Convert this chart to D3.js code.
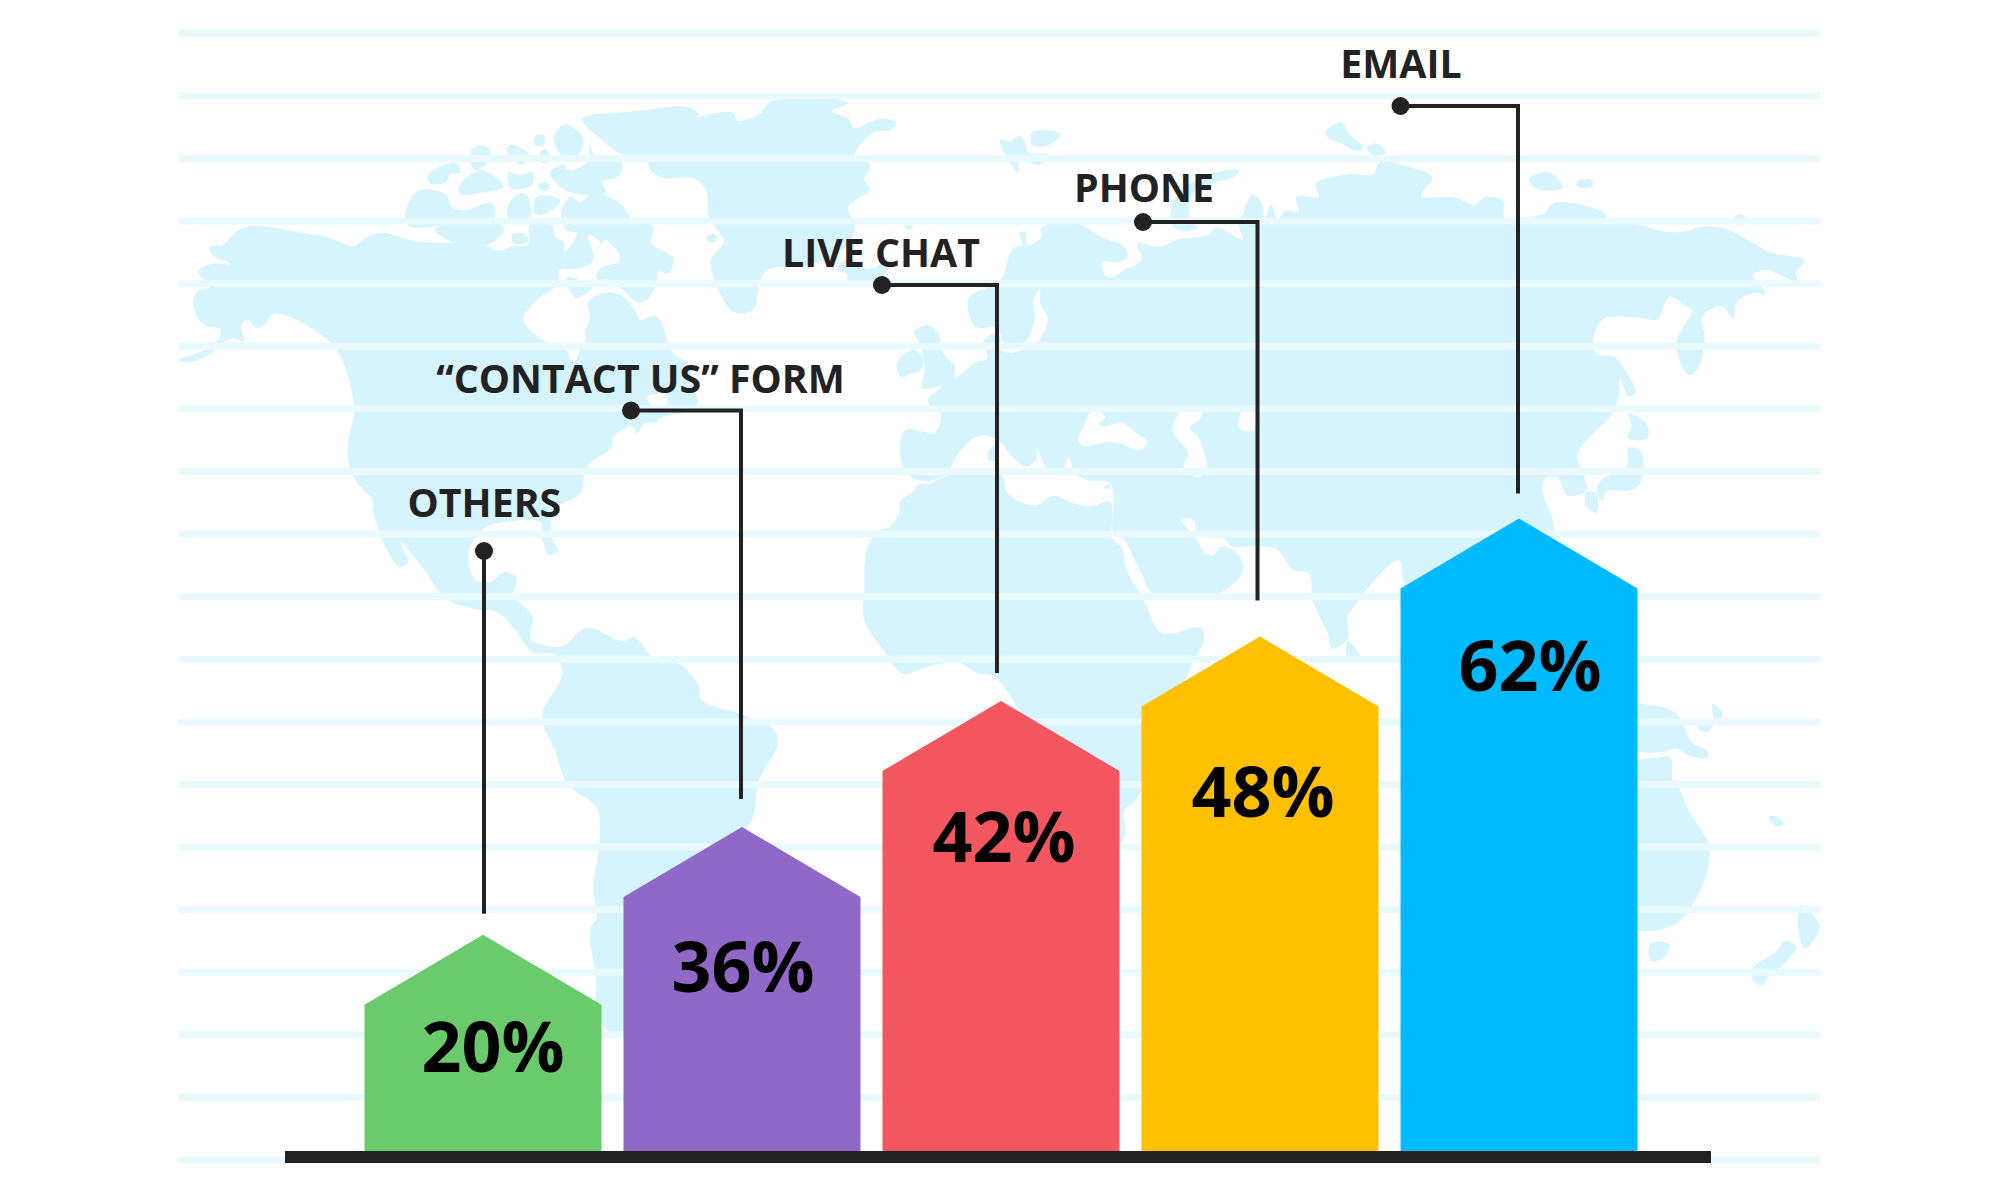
<!DOCTYPE html>
<html><head><meta charset="utf-8">
<script src="https://cdn.jsdelivr.net/npm/d3@7"></script>
<style>html,body{margin:0;background:#fff}svg{display:block}text{font-family:"Open Sans",sans-serif}</style>
</head><body><svg id="c" width="2000" height="1193"></svg>
<script>
var categories = ["OTHERS", "\u201CCONTACT US\u201D FORM", "LIVE CHAT", "PHONE", "EMAIL"];
var values = [20, 36, 42, 48, 62];
var colors = ["#69CB6B", "#9068C8", "#F2565F", "#FFC000", "#00BAFF"];
var gridRows = d3.range(19);

// Map outlines traced in crop units (the helpers add the crop offset)
function shiftPts(ox, oy, p) { return p.map(function (d) { return [d[0] + ox, d[1] + oy]; }); }
function fromZoom(ox, oy, p) { return p.map(function (d) { return [(ox + d[0] / 3) * 1.568, (oy + d[1] / 3) * 2.6133]; }); }
function euro(p) { return fromZoom(880, 270, p); }
function arctic(p) { return fromZoom(480, 180, p); }
var cropRight = 1568, cropBelow = 1550;
var landShapes = [
 // North America + Central + South America
 [...shiftPts(0,0,[[310,710],[330,690],[362,690],[332,665],[330,645],[350,640],[375,600],[405,590],[460,605],[510,618],[555,642],[575,620],[600,608],[650,630],[700,635]]),
  ...arctic([[0,192],[60,212],[100,198],[143,195],[150,135],[215,135],[225,170],[250,185],[255,215],[290,160],[260,150],[243,100],[270,50],[300,65],[340,40],[420,70],[450,110],[520,140],[515,190],[580,235],[565,280],[535,275],[530,310],[500,360],[470,365],[430,330],[385,300],[350,298],[360,265],[415,245],[418,225],[375,180],[365,195],[355,180],[325,165],[340,240],[300,265],[240,270],[235,298],[225,320],[165,365],[130,415],[150,450],[210,490],[260,510],[272,540],[285,545],[300,510],[315,490],[315,455],[330,410],[325,365],[380,338],[430,350],[465,390],[480,420],[520,408],[540,420],[565,490],[580,520],[625,555],[640,620],[650,680],[540,715],[525,730],[495,730],[470,760],[458,740],[400,770],[395,800],[320,860]]),
  ...shiftPts(0,0,[[910,1290],[870,1330],[865,1400],[875,1440],[860,1450],[850,1400],[848,1365],[800,1362],[760,1380],[735,1440],[745,1515],[770,1520],[790,1495],[810,1510],[805,1555]]),
  ...shiftPts(0,cropBelow,[[825,40],[835,60],[833,120],[880,140],[920,90],[975,125],[995,115],[1030,180],[1065,185],[1095,240],[1100,280],[1160,315],[1210,350],[1220,390],[1190,490],[1180,590],[1160,640],[1140,800],[1000,1150],[960,1150],[935,1100],[935,1010],[925,880],[935,850],[930,770],[940,650],[935,560],[890,500],[870,410],[850,320],[882,210],[870,160],[835,155],[810,100],[780,50],[740,40],[700,15]]),
  ...shiftPts(0,0,[[665,1490],[628,1415],[640,1470],[625,1480],[585,1340],[585,1310],[555,1250],[545,1180],[555,1060],[530,920],[500,870],[450,825],[430,820],[410,855],[400,855],[388,835],[378,850],[382,890],[365,885],[350,895],[330,925],[300,945],[278,942],[320,915],[345,880],[345,860],[320,850],[303,800],[310,760],[330,750],[325,740]])],
 // Greenland
 [[1000,405],[1040,375],[1060,330],[1095,305],[1150,295],[1155,315],[1190,300],[1205,270],[1240,255],[1295,255],[1330,270],[1305,290],[1330,310],[1340,335],[1380,310],[1405,320],[1395,340],[1370,345],[1340,410],[1365,430],[1355,470],[1365,495],[1330,540],[1340,590],[1330,640],[1275,690],[1200,710],[1180,810],[1150,815],[1130,770],[1115,680],[1135,630],[1120,590],[1112,570],[1105,490],[1085,465],[1040,465],[1020,445],[1015,425]],
 // Ellesmere & arctic islands
 [[913,310],[1000,290],[1080,280],[1095,300],[1060,330],[1040,375],[1000,405],[970,400],[940,360],[925,340]],
 [[870,350],[888,325],[915,365],[905,405],[880,405],[870,375]],
 [[840,355],[853,355],[852,380],[838,378]],
 [[740,390],[755,380],[767,390],[765,420],[748,445],[740,435]],
 [[795,385],[805,378],[830,405],[820,430],[800,410]],
 [[845,405],[855,390],[865,420],[848,425]],
 [[925,370],[932,405],[975,425],[970,460],[945,475],[950,505],[900,505],[880,490],[862,450],[885,430],[890,445],[920,425]],
 [[672,455],[715,425],[722,450],[705,455],[700,475],[675,480]],
 [[720,485],[755,445],[790,487],[750,505],[722,507]],
 [[797,450],[815,458],[835,450],[835,480],[815,495],[800,490]],
 [[845,480],[860,480],[860,495],[848,498]],
 [[635,560],[650,505],[665,495],[700,510],[708,540],[730,550],[770,530],[775,570],[720,578],[690,590],[640,590]],
 [[795,545],[815,505],[828,515],[830,570],[800,575]],
 [[840,515],[870,515],[878,525],[860,555],[840,560]],
 [[682,600],[700,625],[720,640],[765,640],[790,600],[775,575],[720,575],[690,590]],
 arctic([[98,160],[140,165],[143,185],[100,190]]),
 arctic([[262,292],[335,325],[300,350],[290,355],[265,320]]),
 arctic([[680,170],[705,162],[712,175],[695,187],[680,180]]),
 arctic([[1072,270],[1085,245],[1120,240],[1150,265],[1185,262],[1215,240],[1218,280],[1190,310],[1105,305],[1100,280]]),
 arctic([[565,670],[590,640],[640,640],[652,670],[600,680]]),
 [[1420,590],[1432,590],[1425,602]],
 // UK, Sardinia, Crete
 euro([[50,280],[75,250],[100,240],[125,255],[130,280],[115,305],[90,310],[65,325],[55,310]]),
 euro([[325,545],[345,525],[345,570],[325,570]]),
 euro([[670,650],[690,643],[690,655],[672,655]]),
 // Eurasia
 [...euro([[205,606],[150,633],[100,625],[70,590],[60,520],[80,478],[160,490],[175,475],[180,425],[150,405],[145,385],[185,350],[125,355],[135,300],[120,225],[103,185],[143,165],[175,190],[190,250],[225,290],[225,322],[290,275],[320,268],[320,240],[310,215],[345,190],[360,200],[365,240],[395,248],[440,235],[475,215],[503,145],[480,100],[480,55],[460,95],[465,140],[435,215],[375,220],[355,180],[340,170],[300,175],[280,165],[265,85],[340,45],[365,25]]),
  ...shiftPts(cropRight,0,[[20,650],[35,640],[30,610],[40,605],[42,640],[65,620],[65,595],[120,585],[160,620],[195,645],[200,670],[185,685],[160,685],[165,720],[175,725],[195,705],[222,680],[215,635],[250,645],[280,625],[325,615],[340,595],[380,625],[375,590],[385,540],[395,510],[410,530],[415,570],[425,535],[435,570],[450,550],[468,555],[465,515],[500,515],[495,480],[550,455],[585,455],[595,425],[650,440],[678,465],[660,512],[710,515],[745,535],[760,515],[790,525],[790,565],[850,560],[870,530],[940,550],[960,575],[1010,590],[1040,605],[1075,605],[1100,592],[1140,600],[1210,660],[1262,680],[1248,710],[1250,735],[1200,705],[1180,720],[1190,740],[1200,770],[1185,765],[1155,790],[1150,830],[1130,800],[1100,830],[1105,880],[1095,960],[1080,980],[1060,900],[1085,810],[1075,800],[1050,775],[1030,835],[1000,830],[945,835],[930,890],[935,925],[965,935],[970,1030],[960,1080],[920,1150],[905,1190],[920,1280],[890,1295],[875,1250],[855,1250],[850,1280],[868,1370],[868,1550],[640,1540],[625,1465],[570,1550]]),
  ...shiftPts(cropRight,cropBelow,[[560,25],[545,60],[545,120],[520,145],[515,110],[490,17]]),
  ...shiftPts(cropRight,0,[[485,1500],[459,1489],[434,1437],[403,1427],[364,1429],[349,1403],[334,1406],[309,1393],[303,1359],[284,1359],[306,1403],[322,1445],[334,1450],[349,1429],[371,1445],[381,1489],[345,1550],[240,1550],[219,1489],[191,1402],[178,1390]]),
  ...euro([[700,670],[690,640],[620,630],[585,610],[567,562],[555,585],[550,615],[500,600],[490,580],[470,535],[470,565],[440,590],[400,565],[360,515],[320,497],[280,505],[225,565]])],
 // Africa
 [...shiftPts(0,0,[[1360,1430],[1355,1550]]),
  ...shiftPts(0,cropBelow,[[1355,70],[1390,160],[1415,210],[1460,190],[1500,180],[1535,210],[1560,220]]),
  ...shiftPts(cropRight,cropBelow,[[60,400],[120,655],[187,655],[197,630],[195,570],[215,535],[300,190],[320,120],[315,90],[270,105],[250,100],[225,17]]),
  ...euro([[740,900],[725,835],[697,805],[695,785],[690,695],[630,710],[580,700],[520,677],[470,705],[420,695],[380,665],[365,616],[205,616],[150,641],[115,642],[105,660],[60,695],[57,730],[30,770],[0,780]])],
 // Arctic Eurasia islands, Japan, Sri Lanka
 shiftPts(cropRight,0,[[510,345],[535,320],[548,350],[570,385],[560,395],[535,375],[515,360]]),
 shiftPts(cropRight,0,[[575,385],[590,375],[605,400],[585,405]]),
 shiftPts(cropRight,0,[[830,465],[860,450],[883,490],[850,497],[832,480]]),
 shiftPts(cropRight,0,[[905,475],[928,470],[928,488],[905,488]]),
 shiftPts(cropRight,0,[[1150,570],[1160,560],[1170,570],[1160,588]]),
 shiftPts(cropRight,0,[[0,365],[15,370],[30,355],[38,365],[45,400],[75,405],[65,430],[30,420],[30,450],[15,425]]),
 shiftPts(cropRight,0,[[50,345],[95,350],[75,380],[50,378]]),
 shiftPts(cropRight,0,[[270,530],[290,490],[340,450],[375,445],[370,460],[330,480],[300,510],[300,580],[310,595],[290,605],[270,590]]),
 shiftPts(cropRight,0,[[965,935],[985,980],[997,1025],[985,1035],[975,1000]]),
 shiftPts(cropRight,0,[[985,1080],[1015,1110],[1015,1145],[985,1145],[990,1110]]),
 shiftPts(cropRight,0,[[985,1170],[1005,1180],[1005,1260],[990,1280],[950,1285],[945,1310],[935,1285],[945,1250],[980,1230],[985,1200]]),
 shiftPts(cropRight,0,[[920,1285],[935,1290],[935,1340],[918,1320]]),
 shiftPts(cropRight,cropBelow,[[545,125],[563,160],[560,180],[545,170]]),
 // Indonesia / New Guinea, Australia, Tasmania, NZ, Pacific
 shiftPts(cropRight,cropBelow,[[990,290],[1010,290],[1060,315],[1085,390],[1110,415],[1110,430],[1080,425],[1060,405],[1040,415],[990,405]]),
 shiftPts(cropRight,cropBelow,[[990,450],[1030,430],[1052,430],[1055,490],[1065,510],[1080,570],[1110,650],[1112,700],[1100,770],[1070,850],[1040,878],[990,870]]),
 shiftPts(cropRight,cropBelow,[[1020,915],[1050,918],[1040,955],[1020,960]]),
 shiftPts(cropRight,cropBelow,[[1255,815],[1285,870],[1262,930],[1252,880]]),
 shiftPts(cropRight,cropBelow,[[1232,907],[1248,925],[1225,975],[1205,1000],[1195,1025],[1180,1010],[1180,980],[1215,940]]),
 shiftPts(cropRight,cropBelow,[[1205,585],[1220,585],[1228,605],[1215,607]]),
 shiftPts(cropRight,cropBelow,[[1117,290],[1130,305],[1132,325],[1120,325]]),
 shiftPts(cropRight,cropBelow,[[1095,345],[1118,340],[1112,360],[1098,360]])
];
// Water bodies cut out of the land
var waterShapes = [
 arctic([[500,650],[530,642],[560,648],[558,680],[520,682]]),
 euro([[640,418],[675,440],[655,462],[675,470],[725,458],[770,490],[800,515],[790,535],[770,540],[720,520],[680,516],[610,528],[595,510],[610,470]]),
 euro([[910,418],[965,418],[960,445],[928,475],[955,500],[970,540],[980,595],[955,622],[920,600],[910,585],[925,550],[880,490],[880,465]]),
 euro([[1090,418],[1120,418],[1120,480],[1085,480],[1075,465]])
];

var svg = d3.select("#c");
svg.selectAll("*").remove();
var mapX = d3.scaleLinear().domain([0, 3136]).range([0, 2000]);
var mapY = d3.scaleLinear().domain([0, 3136]).range([0, 1200]);
var outline = d3.line().x(function (d) { return mapX(d[0]); }).y(function (d) { return mapY(d[1]); }).curve(d3.curveCatmullRomClosed.alpha(0.5));

svg.append("g").selectAll("path").data(landShapes).join("path").attr("d", outline).attr("fill", "#D6F4FE");
svg.append("g").selectAll("path").data(waterShapes).join("path").attr("d", outline).attr("fill", "#fff");

var gridY = d3.scaleLinear().domain([0, 18]).range([33.3, 1160]);
svg.append("g").selectAll("rect").data(gridRows).join("rect")
  .attr("x", 179).attr("width", 1641).attr("y", function (d) { return gridY(d) - 3.5; }).attr("height", 7).attr("fill", "#E9FAFF");

var xScale = d3.scaleBand().domain(categories).range([364.5, 1637.5]).paddingInner(0.085);
// the reference's bars are not proportional to their labels, so the scale is calibrated per value
var yScale = d3.scaleLinear().domain([0, 20, 36, 42, 48, 62]).range([1151, 934.7, 827, 701, 636.6, 518.6]);

var rows = categories.map(function (c, i) { return {c: c, v: values[i], color: colors[i]}; });
var shoulder = 70;
function arrow(d) {
  var l = xScale(d.c), r = l + xScale.bandwidth(), m = l + xScale.bandwidth() / 2, t = yScale(d.v);
  return d3.line()([[l, yScale(0)], [l, t + shoulder], [m, t], [r, t + shoulder], [r, yScale(0)]]) + "Z";
}
svg.append("g").selectAll("path").data(rows).join("path").attr("d", arrow).attr("fill", function (d) { return d.color; });

svg.append("rect").attr("x", 285).attr("width", 1426).attr("y", 1151).attr("height", 12).attr("fill", "#222");

// Callouts: dot row, label row, gap above the peak, elbow nudge, value label nudges
var dotY = [551, 410.5, 285, 222, 106];
var labelY = [516.6, 392.6, 266.7, 201.7, 77.7];
var labelX = [484.4, 640.5, 881, 1144, 1401];
var dotX = [484, 631, 882, 1143, 1400.5];
var peakGap = [21, 28, 28, 36, 25];
var elbowDx = [0, 0, -3, -1.5, 0];
var valueDx = [10, 1, 3, 3, 11], valueDy = [137, 165, 161, 180, 172];
var co = svg.append("g");
rows.forEach(function (d, i) {
  var m = xScale(d.c) + xScale.bandwidth() / 2 - 1 + elbowDx[i], bottom = yScale(d.v) - peakGap[i];
  var pts = i === 0 ? [[dotX[i], dotY[i]], [dotX[i], bottom]] : [[dotX[i], dotY[i]], [m, dotY[i]], [m, bottom]];
  co.append("path").attr("d", d3.line()(pts)).attr("fill", "none").attr("stroke", "#222").attr("stroke-width", 4);
  co.append("circle").attr("cx", dotX[i]).attr("cy", dotY[i]).attr("r", 9).attr("fill", "#222");
  co.append("text").attr("x", labelX[i]).attr("y", labelY[i]).attr("text-anchor", "middle")
    .attr("font-size", 39.3).attr("font-weight", 700).attr("fill", "#222").text(d.c);
  svg.append("text").attr("x", xScale(d.c) + xScale.bandwidth() / 2 + valueDx[i]).attr("y", yScale(d.v) + valueDy[i])
    .attr("text-anchor", "middle").attr("font-size", 70).attr("font-weight", 700).attr("fill", "#000").text(d.v + "%");
});
</script></body></html>
